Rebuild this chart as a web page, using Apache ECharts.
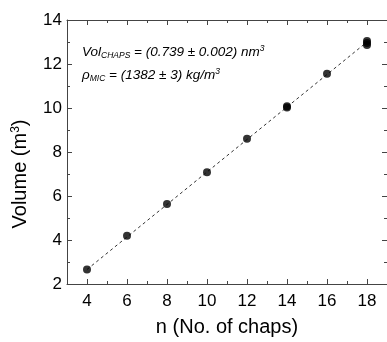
<!DOCTYPE html>
<html>
<head>
<meta charset="utf-8">
<script src="https://cdn.jsdelivr.net/npm/echarts@6/dist/echarts.min.js"></script>
<style>
  html, body { margin: 0; padding: 0; background: #fff; }
  #chart { width: 387px; height: 342px; }
</style>
</head>
<body>
<div id="chart"></div>
<script>
// Measured volumes for each number of CHAPS molecules
const chapsN = [4, 6, 8, 10, 12, 14, 14, 16, 18, 18, 18];
const volume = [2.66, 4.19, 5.64, 7.08, 8.60, 10.02, 10.08, 11.56, 12.86, 12.95, 13.05];

// Linear fit endpoints
const fitN = [4, 18];
const fitV = [2.66, 13.0];

// Axis ticks
const xMajor = [4, 6, 8, 10, 12, 14, 16, 18];
const xMinor = [3, 5, 7, 9, 11, 13, 15, 17, 19];
const yMajor = [2, 4, 6, 8, 10, 12, 14];
const yMinor = [3, 5, 7, 9, 11, 13];

const FONT = 'Liberation Sans';
const AXIS_COLOR = '#444';

function makeAxis(kind, position, ticks, len, withLine, withLabel, extra) {
  const isX = kind === 'x';
  return Object.assign({
    type: 'value',
    gridIndex: 0,
    position: position,
    min: isX ? 3 : 2,
    max: isX ? 19 : 14,
    splitLine: { show: false },
    axisLine: { show: withLine, onZero: false, lineStyle: { color: AXIS_COLOR, width: 1 } },
    axisTick: { show: true, inside: true, length: len, customValues: ticks,
                lineStyle: { color: AXIS_COLOR, width: 1 } },
    axisLabel: { show: withLabel, customValues: ticks, color: '#000',
                 fontFamily: FONT, fontSize: 17, margin: isX ? 9 : 5 }
  }, extra || {});
}

const chart = echarts.init(document.getElementById('chart'));

chart.setOption({
  animation: false,
  backgroundColor: '#fff',
  grid: { left: 67, top: 20, width: 322, height: 267, containLabel: false },
  xAxis: [
    makeAxis('x', 'bottom', xMajor, 5, true, true, {
      name: 'n (No. of chaps)', nameLocation: 'middle', nameGap: 33,
      nameTextStyle: { fontFamily: FONT, fontSize: 20, color: '#000' }
    }),
    makeAxis('x', 'bottom', xMinor, 3, false, false),
    makeAxis('x', 'top', xMajor, 5, true, false),
    makeAxis('x', 'top', xMinor, 3, false, false)
  ],
  yAxis: [
    makeAxis('y', 'left', yMajor, 5, true, true, {
      name: '{n|Volume (m}{s|3}{n|)}', nameLocation: 'middle', nameGap: 36,
      nameTextStyle: {
        padding: [0, 44, 0, 0],
        rich: {
          n: { fontFamily: FONT, fontSize: 20, color: '#000' },
          s: { fontFamily: FONT, fontSize: 12, color: '#000', verticalAlign: 'top', padding: [0, 0, 9, 0] }
        }
      }
    }),
    makeAxis('y', 'left', yMinor, 3, false, false),
    makeAxis('y', 'right', yMajor, 5, true, false),
    makeAxis('y', 'right', yMinor, 3, false, false)
  ],
  series: [
    {
      type: 'line',
      xAxisIndex: 0, yAxisIndex: 0,
      data: fitN.map((n, i) => [n, fitV[i]]),
      symbol: 'none',
      lineStyle: { color: '#333', width: 1, type: [3, 3] },
      z: 1
    },
    {
      type: 'scatter',
      xAxisIndex: 0, yAxisIndex: 0,
      data: chapsN.map((n, i) => [n, volume[i]]),
      symbol: 'circle',
      symbolSize: 8,
      itemStyle: { color: '#000' },
      z: 2
    }
  ],
  graphic: [
    {
      type: 'text', left: 82, top: 44,
      style: {
        text: '{i|Vol}{sub|CHAPS}{i| = (0.739 ± 0.002) nm}{sup|3}',
        rich: {
          i: { fontFamily: FONT, fontSize: 13.5, fontStyle: 'italic', color: '#000' },
          sub: { fontFamily: FONT, fontSize: 8.5, fontStyle: 'italic', color: '#000', verticalAlign: 'bottom', padding: [7, 0, 0, 0] },
          sup: { fontFamily: FONT, fontSize: 8.5, fontStyle: 'italic', color: '#000', verticalAlign: 'top', padding: [0, 0, 7, 0] }
        }
      }
    },
    {
      type: 'text', left: 82, top: 67,
      style: {
        text: '{i|ρ}{sub|MIC}{i| = (1382 ± 3) kg/m}{sup|3}',
        rich: {
          i: { fontFamily: FONT, fontSize: 13.5, fontStyle: 'italic', color: '#000' },
          sub: { fontFamily: FONT, fontSize: 8.5, fontStyle: 'italic', color: '#000', verticalAlign: 'bottom', padding: [7, 0, 0, 0] },
          sup: { fontFamily: FONT, fontSize: 8.5, fontStyle: 'italic', color: '#000', verticalAlign: 'top', padding: [0, 0, 7, 0] }
        }
      }
    }
  ]
});
</script>
</body>
</html>
